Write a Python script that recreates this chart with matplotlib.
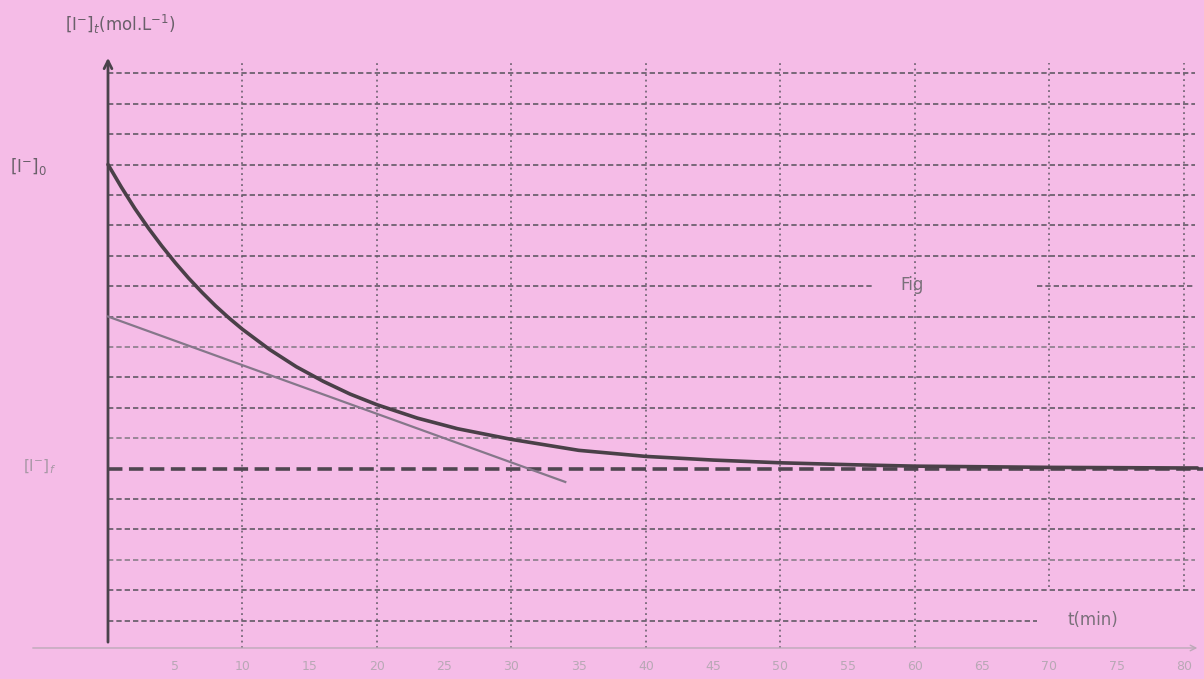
import matplotlib
matplotlib.use("Agg")
import matplotlib.pyplot as plt

# ---- data ----
t_curve = [0, 1, 2, 3, 4, 5, 6, 7, 8, 9, 10, 12, 14, 16, 18, 20, 23, 26, 30, 35, 40, 45,
           50, 55, 60, 70, 80, 81]
c_curve = [16.0, 15.25, 14.55, 13.91, 13.32, 12.77, 12.26, 11.79, 11.35, 10.95, 10.58, 9.92,
           9.35, 8.87, 8.45, 8.10, 7.66, 7.31, 6.96, 6.60, 6.40, 6.28, 6.19, 6.13, 6.08,
           6.04, 6.02, 6.02]
tangent_t = [0, 34]
tangent_c = [11.0, 5.56]
c_final = 6.0
c_initial = 16.0
h_grid = list(range(1, 20))
light_rows = [3, 7, 10]
v_grid = [10, 20, 30, 40, 50, 60, 70, 80]
x_ticks = [5, 10, 15, 20, 25, 30, 35, 40, 45, 50, 55, 60, 65, 70, 75, 80]

BG = "#f5bce7"
fig = plt.figure(figsize=(12.04, 6.79), dpi=100, facecolor=BG)
ax = fig.add_axes([0, 0, 1, 1], facecolor=BG)
ax.set_xlim(-8.03, 81.49)
ax.set_ylim(-0.92, 21.41)
ax.axis("off")

# grid
grid_kw = dict(lw=1.2, ls=(0, (3.2, 1.8)), zorder=1)
for y in h_grid:
    if y == c_final:
        continue
    col = "#8a7e8a" if y in light_rows else "#625a66"
    if y == 12:
        # gap left around the "Fig" label
        ax.plot([0, 56.9], [y, y], color=col, **grid_kw)
        ax.plot([69.1, 80.8], [y, y], color=col, **grid_kw)
    elif y == 1:
        # line stops before the "t(min)" label
        ax.plot([0, 69.1], [y, y], color=col, **grid_kw)
    else:
        ax.plot([0, 80.8], [y, y], color=col, **grid_kw)
for x in v_grid:
    y0 = 2.1 if x >= 70 else 0.1
    ax.plot([x, x], [y0, 19.35], color="#625a66", lw=1.1, ls=(0, (1.2, 2.4)), zorder=1)

# final concentration dashed line
ax.plot([0, 81.4], [c_final, c_final], color="#4f4650", lw=2.6, ls=(0, (4, 1.8)), zorder=2)

# x axis (faint) with arrow
ax.annotate("", xy=(81.2, 0.1), xytext=(-5.8, 0.1),
            arrowprops=dict(arrowstyle="->", color="#bcaab8", lw=1.0))
# y axis with arrow
ax.annotate("", xy=(0, 19.6), xytext=(0, 0.2),
            arrowprops=dict(arrowstyle="->", color="#4a424b", lw=2.0, mutation_scale=14))

# tangent and curve
ax.plot(tangent_t, tangent_c, color="#85778a", lw=1.6, zorder=3)
ax.plot(t_curve, c_curve, color="#4a4048", lw=2.6, zorder=4,
        solid_joinstyle="round", solid_capstyle="round")

# texts
tc = "#6a606a"
ax.text(-3.2, 20.6, r"[I$^{-}$]$_t$(mol.L$^{-1}$)", color=tc, fontsize=12, ha="left", va="center")
ax.text(-7.3, c_initial - 0.05, r"[I$^{-}$]$_0$", color=tc, fontsize=12, ha="left", va="center")
ax.text(-6.3, c_final + 0.05, r"[I$^{-}$]$_f$", color="#a898a6", fontsize=11, ha="left", va="center")
ax.text(59.8, 12.05, "Fig", color="#7a707a", fontsize=12, ha="center", va="center")
ax.text(73.2, 1.02, "t(min)", color="#7a707a", fontsize=12, ha="center", va="center")
for x in x_ticks:
    ax.text(x, -0.52, str(x), color="#b8a8b5", fontsize=9, ha="center", va="center")

fig.savefig("out.png", dpi=100, facecolor=BG)
